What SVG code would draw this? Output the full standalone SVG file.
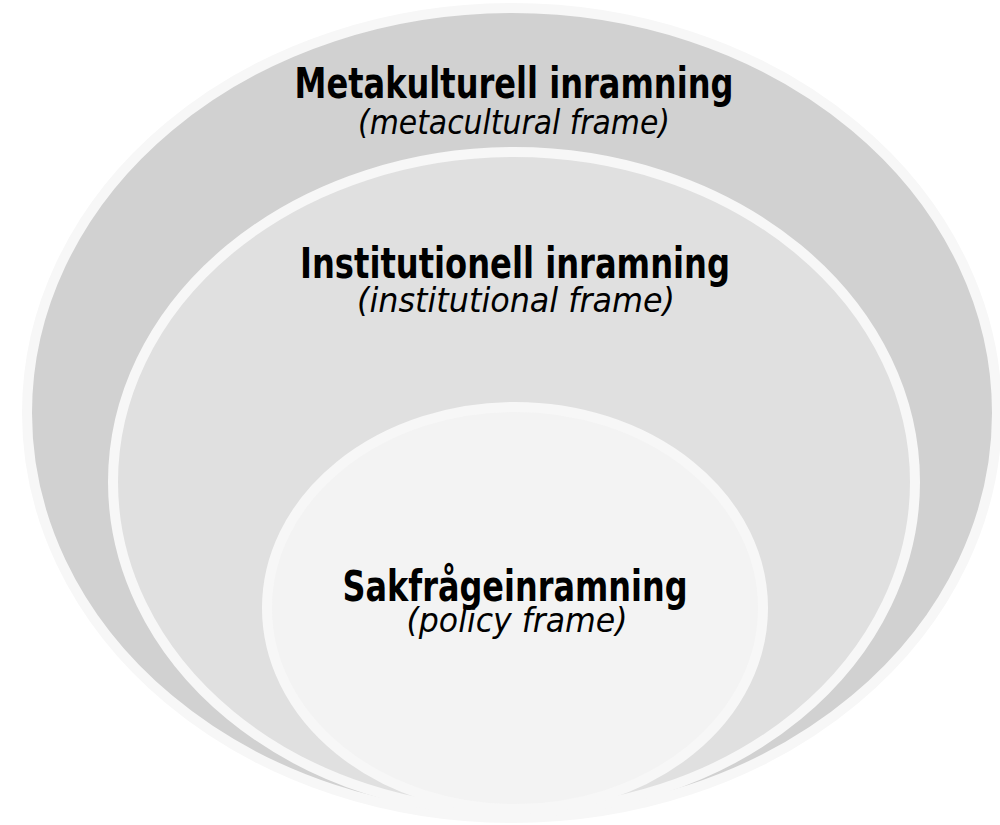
<svg xmlns="http://www.w3.org/2000/svg" width="1000" height="825" viewBox="0 0 1000 825">
<style>
.ring{stroke:#f7f7f7;stroke-width:10}
.t{font-family:"Liberation Sans Narrow","DejaVu Sans Condensed","Liberation Sans",sans-serif;text-anchor:middle;fill:#000}
.b{font-weight:bold;font-size:42px}
.i{font-style:italic;font-size:33px}
</style>
<rect width="1000" height="825" fill="#ffffff"/>
<g id="metacultural">
<ellipse class="ring" cx="512" cy="413" rx="485" ry="405" fill="#d1d1d1"/>
<text class="t b" x="514" y="98" textLength="439" lengthAdjust="spacingAndGlyphs">Metakulturell inramning</text>
<text class="t i" x="514" y="134" textLength="312" lengthAdjust="spacingAndGlyphs">(metacultural frame)</text>
</g>
<g id="institutional">
<ellipse class="ring" cx="514" cy="482" rx="401" ry="330" fill="#e0e0e0"/>
<text class="t b" x="515" y="278" textLength="430" lengthAdjust="spacingAndGlyphs">Institutionell inramning</text>
<text class="t i" x="516" y="312" textLength="318" lengthAdjust="spacingAndGlyphs">(institutional frame)</text>
</g>
<g id="policy">
<ellipse class="ring" cx="515" cy="608" rx="248" ry="201" fill="#f3f3f3"/>
<text class="t b" x="515" y="601" textLength="345" lengthAdjust="spacingAndGlyphs">Sakfrågeinramning</text>
<text class="t i" x="517" y="632" textLength="221" lengthAdjust="spacingAndGlyphs">(policy frame)</text>
</g>
<g id="connectors"/>
</svg>
